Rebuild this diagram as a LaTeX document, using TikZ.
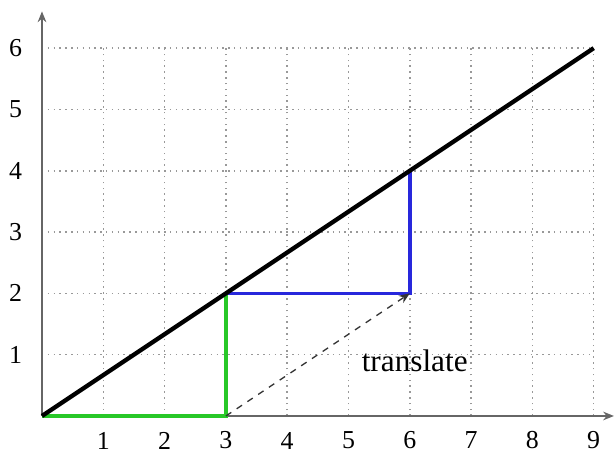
\documentclass[tikz,border=0pt]{standalone}
\usepackage{fontspec}
\setmainfont{Liberation Serif}
\usetikzlibrary{arrows.meta}
\definecolor{segGreen}{RGB}{40,200,40}
\definecolor{segBlue}{RGB}{40,40,220}
\begin{document}
\begin{tikzpicture}[
  gridline/.style={gray!80, line width=0.7pt, dash pattern=on 0.7pt off 2pt},
  axis/.style={gray!80!black, line width=1pt, -{Stealth[length=5pt,width=4pt]}},
  mainline/.style={black, line width=2pt},
  greenseg/.style={segGreen, line width=1.6pt},
  blueseg/.style={segBlue, line width=1.6pt},
  transl/.style={black!80, line width=0.6pt, dash pattern=on 3pt off 3pt, -{Stealth[length=5pt,width=4pt]}},
  lbl/.style={font=\fontsize{12}{14}\selectfont}
]
\useasboundingbox (-0.685,-0.718) rectangle (9.364,6.786);
% grid
\foreach \x in {1,...,9} \draw[gridline] (\x,0) -- (\x,6);
\foreach \y in {1,...,6} \draw[gridline] (0,\y) -- (9,\y);
% axes
\coordinate (O) at (0,0);
\coordinate (xend) at (9.33,0);
\coordinate (yend) at (0,6.6);
\draw[axis] (O) -- (xend);
\draw[axis] (O) -- (yend);
% labels
\foreach \x in {1,...,9} \node[lbl] (xl\x) at (\x,-0.4) {\x};
\foreach \y in {1,...,6} \node[lbl] (yl\y) at (-0.43,\y) {\y};
% points
\coordinate (A) at (3,0);
\coordinate (B) at (3,2);
\coordinate (C) at (6,2);
\coordinate (D) at (6,4);
\coordinate (E) at (9,6);
% segments
\draw[greenseg] (O) -- (A) -- (B);
\draw[blueseg] (B) -- (C) -- (D);
\draw[transl] (A) -- (C);
\draw[mainline] (O) -- (E);
\node[font=\fontsize{14.5}{16}\selectfont] (t) at (6.08,0.9) {translate};
\end{tikzpicture}
\end{document}
